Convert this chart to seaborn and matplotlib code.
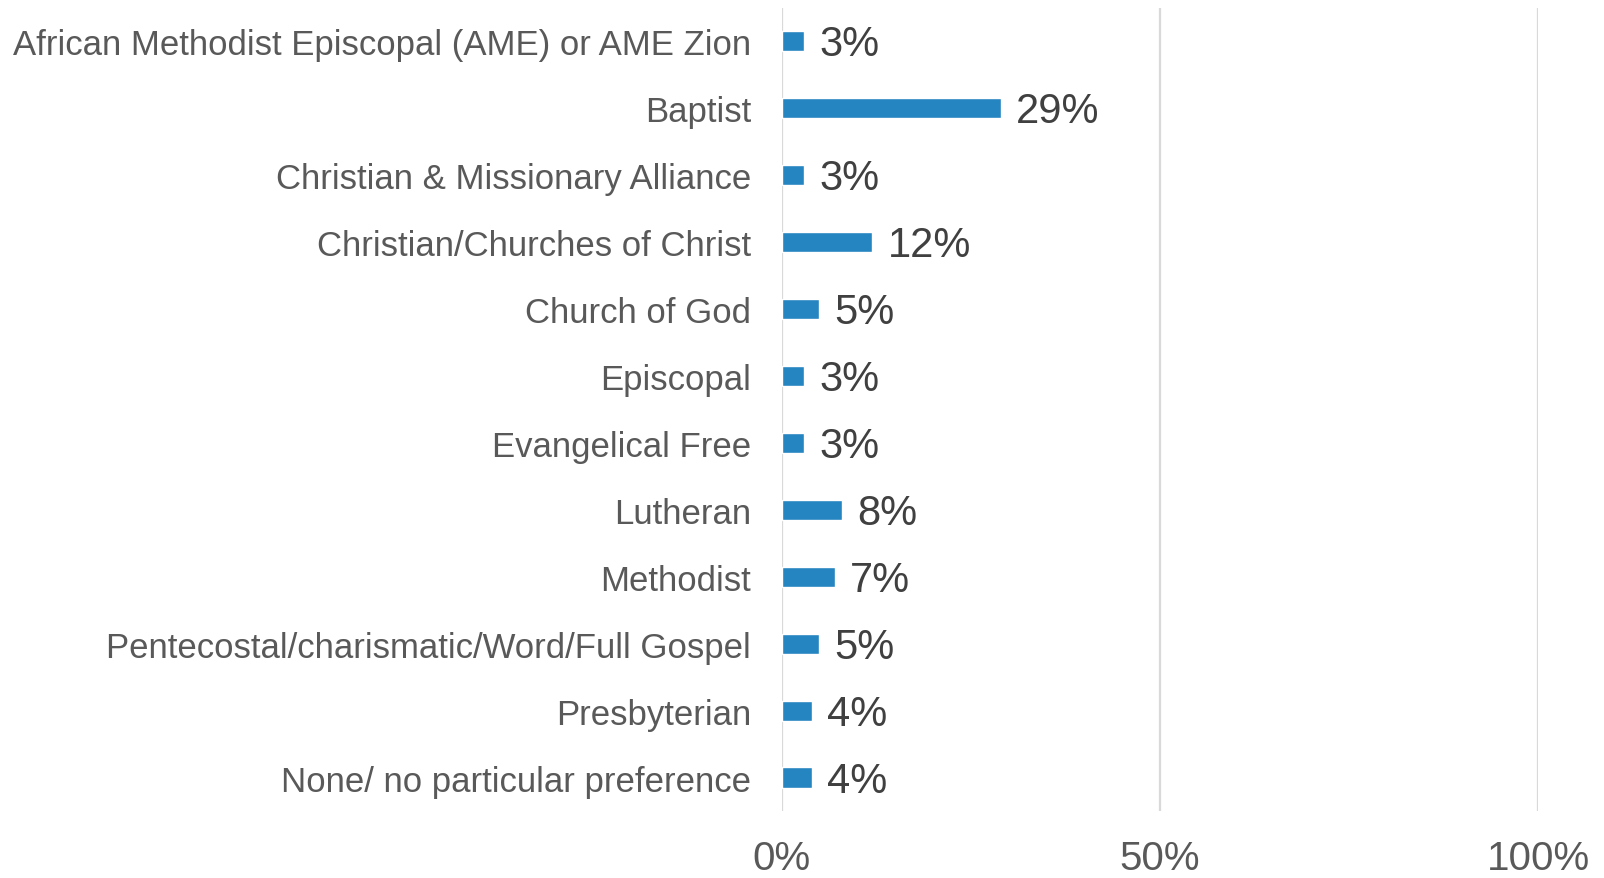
import matplotlib
matplotlib.use("Agg")
import matplotlib.pyplot as plt
import seaborn as sns
import pandas as pd

categories = [
    "African Methodist Episcopal (AME) or AME Zion",
    "Baptist",
    "Christian & Missionary Alliance",
    "Christian/Churches of Christ",
    "Church of God",
    "Episcopal",
    "Evangelical Free",
    "Lutheran",
    "Methodist",
    "Pentecostal/charismatic/Word/Full Gospel",
    "Presbyterian",
    "None/ no particular preference",
]
values = [3, 29, 3, 12, 5, 3, 3, 8, 7, 5, 4, 4]
x_ticks = [0, 50, 100]
x_tick_labels = ["0%", "50%", "100%"]

df = pd.DataFrame({"denomination": categories, "share": values})

sns.set_theme(style="white")
plt.rcParams["font.family"] = ["Liberation Sans", "DejaVu Sans"]

fig = plt.figure(figsize=(16.04, 8.79), dpi=100)
ax = fig.add_axes([0.4873, 0.0762, 0.4716, 0.9141])

sns.barplot(data=df, y="denomination", x="share", orient="h",
            color="#2585C0", width=0.3, saturation=1, ax=ax)

ax.set_xlim(0, 100)
ax.set_ylim(len(categories) - 0.5, -0.5)
ax.set_xticks(x_ticks)
ax.set_xticklabels(x_tick_labels)
ax.set_xlabel("")
ax.set_ylabel("")

for s in ax.spines.values():
    s.set_visible(False)

ax.xaxis.grid(True, color="#D9D9D9", linewidth=1.6)
ax.yaxis.grid(False)
ax.set_axisbelow(True)

ax.tick_params(axis="y", length=0, pad=22, labelsize=25, labelcolor="#595959")
ax.tick_params(axis="x", length=0, pad=20, labelsize=29, labelcolor="#595959")

for i, v in enumerate(values):
    ax.annotate(f"{v}%", xy=(v, i), xytext=(11, -2.5), textcoords="offset points",
                ha="left", va="center", fontsize=30, color="#404040")

fig.savefig("out.png", dpi=100)
